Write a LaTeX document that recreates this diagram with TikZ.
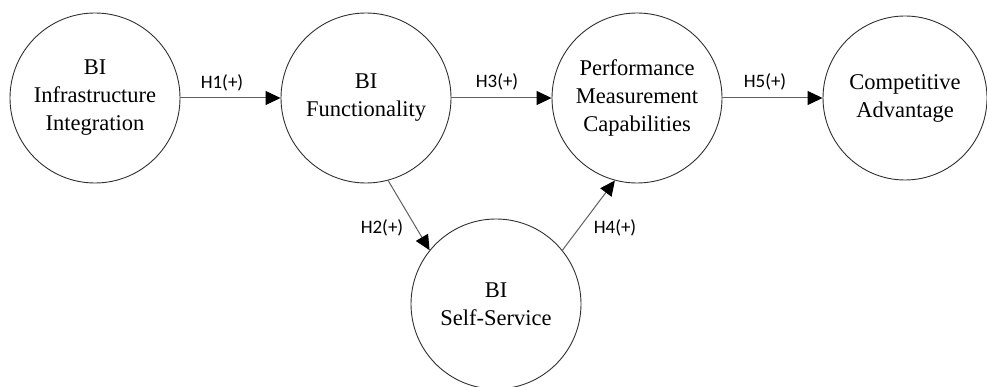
\documentclass[tikz,border=0pt]{standalone}
\usepackage{fontspec}
\setmainfont{Liberation Serif}
\newfontfamily\labelfont{Carlito}
\usetikzlibrary{arrows.meta}
\definecolor{circline}{HTML}{303030}
\definecolor{arrline}{HTML}{606060}
\tikzset{
  construct/.style={circle, draw=circline, line width=0.9pt, minimum size=170pt, inner sep=0pt,
    align=center, font=\fontsize{22.5}{28}\selectfont},
  hyp/.style={draw=arrline, line width=1pt, -{Triangle[length=15pt,width=14pt,black]}},
  hlabel/.style={font=\labelfont\fontsize{19}{22}\selectfont, inner sep=0pt}
}
\begin{document}
\begin{tikzpicture}[x=1pt,y=-1pt]
\useasboundingbox (0,0) rectangle (987,387);
\node[construct] (bii) at (95,98) {BI\\Infrastructure\\Integration};
\node[construct] (bif) at (366,98) {BI\\Functionality};
\node[construct] (pmc) at (637,98) {Performance\\Measurement\\Capabilities};
\node[construct, minimum size=164pt] (ca) at (905,98) {Competitive\\Advantage};
\node[construct] (biss) at (496,304) {BI\\Self-Service};
\draw[hyp] (bii.east) -- (bif.west);
\draw[hyp] (bif.east) -- (pmc.west);
\draw[hyp] (pmc.east) -- (ca.west);
\draw[hyp] (bif.-75) -- (biss.141);
\draw[hyp] (biss.39) -- (pmc.-105);
\node[hlabel] (h1) at (222,83) {H1(+)};
\node[hlabel] (h3) at (497,82) {H3(+)};
\node[hlabel] (h5) at (765,82) {H5(+)};
\node[hlabel] (h2) at (382,228) {H2(+)};
\node[hlabel] (h4) at (615,228) {H4(+)};
\end{tikzpicture}
\end{document}
